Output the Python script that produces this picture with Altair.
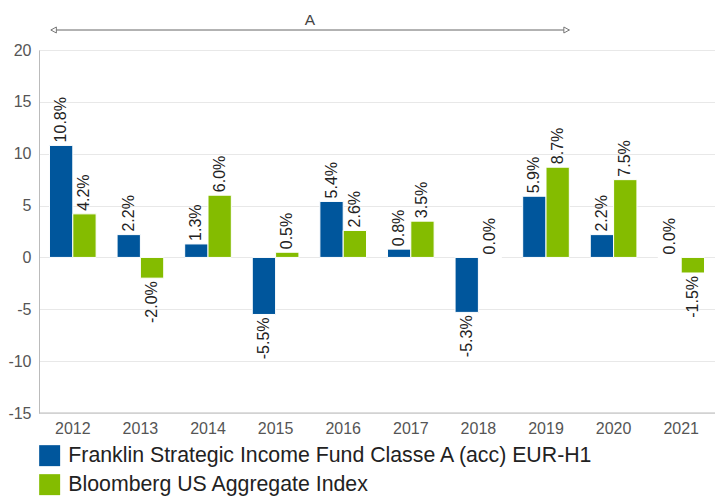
import altair as alt
import pandas as pd

years = ["2012", "2013", "2014", "2015", "2016", "2017", "2018", "2019", "2020", "2021"]
fund = [10.8, 2.2, 1.3, -5.5, 5.4, 0.8, -5.3, 5.9, 2.2, 0.0]
index = [4.2, -2.0, 6.0, 0.5, 2.6, 3.5, 0.0, 8.7, 7.5, -1.5]
series_names = ["Franklin Strategic Income Fund Classe A (acc) EUR-H1",
                "Bloomberg US Aggregate Index"]
colors = ["#00569c", "#84bc00"]
y_ticks = [-15, -10, -5, 0, 5, 10, 15, 20]

rows = []
for i, y in enumerate(years):
    for s, vals in zip(series_names, [fund, index]):
        v = vals[i]
        rows.append({"year": y, "series": s, "value": v, "label": f"{v:.1f}%"})
df = pd.DataFrame(rows)

FONT = "Liberation Sans"

x_enc = alt.X("year:N", scale=alt.Scale(domain=years, paddingInner=0.31, paddingOuter=0.155),
              axis=alt.Axis(title=None, labelAngle=0, ticks=False, domain=False, grid=False,
                            labelFontSize=16, labelColor="#555555", labelPadding=7, labelFont=FONT))
y_enc = alt.Y("value:Q", scale=alt.Scale(domain=[-15, 20], nice=False),
              axis=alt.Axis(title=None, values=y_ticks, ticks=False, domain=True, domainColor="#bbbbbb",
                            gridColor="#e8e8e8", labelFontSize=16, labelColor="#555555",
                            labelPadding=8, labelFont=FONT, labelExpr="datum.value + ''"))
xoff = alt.XOffset("series:N", scale=alt.Scale(domain=series_names, paddingInner=0))
color_enc = alt.Color("series:N", scale=alt.Scale(domain=series_names, range=colors),
                      legend=alt.Legend(title=None, orient="none", legendX=0, legendY=395,
                                        direction="vertical", symbolType="square", symbolSize=440,
                                        symbolStrokeWidth=0, labelFontSize=21.3, labelColor="#222222",
                                        labelFont=FONT, labelOffset=8, rowPadding=6, padding=0,
                                        labelLimit=700))

base = alt.Chart(df)

bars = base.mark_bar(stroke="white", strokeWidth=1).encode(
    x=x_enc, y=y_enc, xOffset=xoff, color=color_enc)

# bottom axis line at -15
bottom_line = alt.Chart(pd.DataFrame({"v": [-15]})).mark_rule(color="#bbbbbb").encode(
    y="v:Q")

pos_labels = base.transform_filter("datum.value >= 0").mark_text(
    angle=270, align="left", baseline="middle", dx=3, fontSize=16, font=FONT, color="#222222"
).encode(x=alt.X("year:N"), y="value:Q", xOffset=xoff, text="label:N")

neg_labels = base.transform_filter("datum.value < 0").mark_text(
    angle=270, align="right", baseline="middle", dx=-3, fontSize=16, font=FONT, color="#222222"
).encode(x=alt.X("year:N"), y="value:Q", xOffset=xoff, text="label:N")

ann = pd.DataFrame({"start": ["2012"], "end": ["2019"], "mid": ["2016"], "label": ["A"]})
ann_base = alt.Chart(ann)
arrow_line = ann_base.mark_rule(color="#666666", strokeWidth=1).encode(
    x=alt.X("start:N", bandPosition=0.03),
    x2=alt.X2("end:N", bandPosition=1.0),
    y=alt.value(-20))
left_head = ann_base.mark_point(shape="M0,0L1,-0.55L1,0.55Z", filled=True, fill="white",
                                stroke="#777777", strokeWidth=1, size=120, opacity=1).encode(
    x=alt.X("start:N", bandPosition=0.03), y=alt.value(-20))
right_head = ann_base.mark_point(shape="M0,0L-1,-0.55L-1,0.55Z", filled=True, fill="white",
                                 stroke="#777777", strokeWidth=1, size=120, opacity=1).encode(
    x=alt.X("end:N", bandPosition=1.0), y=alt.value(-20))
a_text = ann_base.mark_text(fontSize=15.5, font=FONT, color="#444444", baseline="bottom", dx=-10).encode(
    x=alt.X("mid:N", bandPosition=0), y=alt.value(-22), text="label:N")

chart = alt.layer(bottom_line, bars, pos_labels, neg_labels, arrow_line, left_head, right_head, a_text).properties(
    width=676, height=363,
    autosize=alt.AutoSizeParams(type="none"),
    padding={"left": 39, "top": 50, "right": 0, "bottom": 85},
).configure_view(stroke=None).configure(background="white")

chart.save("out.html", embed_options={"renderer": "svg", "actions": False})
